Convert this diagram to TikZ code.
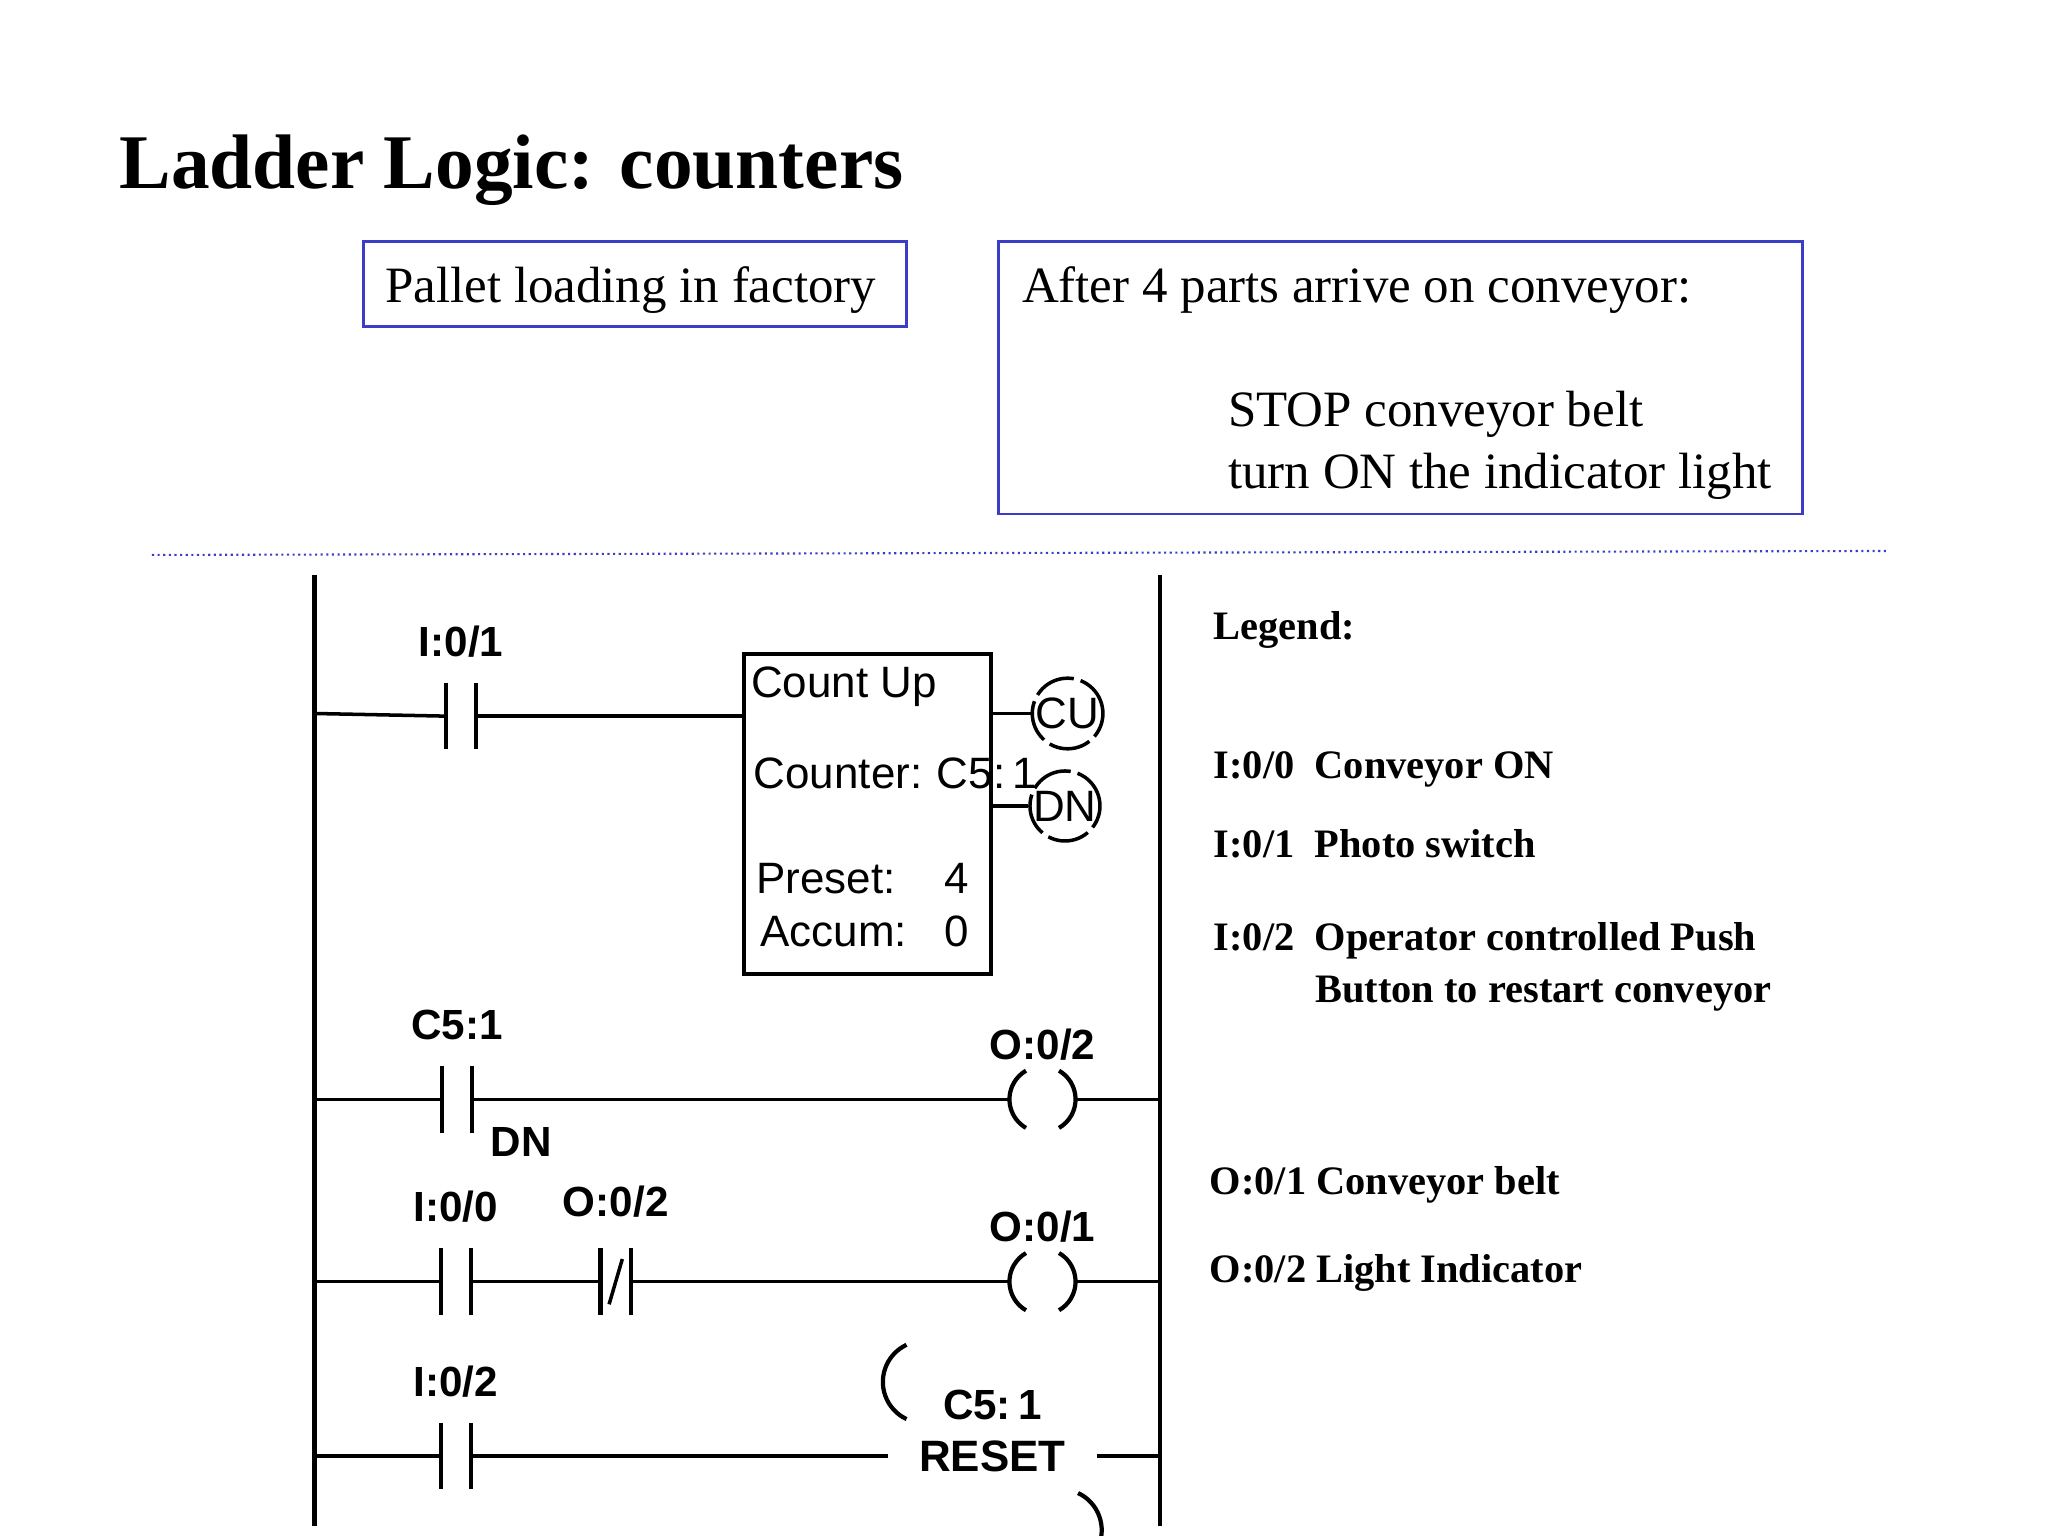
\documentclass[tikz,border=0pt]{standalone}
\usepackage{fontspec}
\setmainfont{Liberation Serif}
\newfontfamily\ladderfont{Liberation Sans}
\usetikzlibrary{positioning,calc,shapes.geometric}
\definecolor{frameblue}{RGB}{60,60,200}
\begin{document}
\begin{tikzpicture}[x=0.01321cm,y=-0.01321cm,
    txt/.style={inner sep=0pt,anchor=base west},
    lbl/.style={inner sep=0pt,font=\ladderfont\bfseries\fontsize{12}{12}\selectfont},
    box/.style={draw=frameblue,line width=0.8pt},
    rail/.style={line width=1.2pt},
    wire/.style={line width=1pt},
    contact/.style={inner sep=0pt,minimum height=0.65cm,minimum width=0.29cm},
    coil/.style={circle,minimum size=0.66cm,inner sep=0pt},
    legend/.style={txt,font=\bfseries\fontsize{11.5}{12}\selectfont}]
    \useasboundingbox (0,0) rectangle (1550,1162);
    % header
    \node[txt,font=\bfseries\fontsize{22}{24}\selectfont] (title) at (90,143) {Ladder Logic: counters};
    \draw[box] (275,183) rectangle (686,247);
    \node[txt,font=\fontsize{14.5}{16}\selectfont] (pallet) at (291,229) {Pallet loading in factory};
    \draw[box] (756,183) rectangle (1364,389);
    \node[txt,font=\fontsize{14.5}{16}\selectfont] (after) at (773,229) {After 4 parts arrive on conveyor:};
    \node[txt,font=\fontsize{14.5}{16}\selectfont] (stop) at (929,323) {STOP conveyor belt};
    \node[txt,font=\fontsize{14.5}{16}\selectfont] (turn) at (929,370) {turn ON the indicator light};
    \draw[frameblue,densely dotted,line width=0.6pt] (115,420) -- (1428,417);
    % rails
    \draw[rail] (238,435) -- (238,1155);
    \draw[rail] (878,435) -- (878,1155);
    % rung 1: counter
    \node[contact] (c1) at (349,542) {};
    \node[lbl,above=0.25cm of c1] {I:0/1};
    \node[draw,line width=1pt,minimum width=2.47cm,minimum height=3.2cm,inner sep=0pt] (ctu) at (656.5,616) {};
    \node[txt,font=\ladderfont\fontsize{12.5}{13}\selectfont] at (568,528) {Count Up};
    \node[txt,font=\ladderfont\fontsize{12.5}{13}\selectfont] at (570,597) {Counter:\,\,C5:\,1};
    \node[txt,font=\ladderfont\fontsize{12.5}{13}\selectfont] at (572,676) {Preset:};
    \node[txt,font=\ladderfont\fontsize{12.5}{13}\selectfont] at (714,676) {4};
    \node[txt,font=\ladderfont\fontsize{12.5}{13}\selectfont] at (575,716) {Accum:};
    \node[txt,font=\ladderfont\fontsize{12.5}{13}\selectfont] at (714,716) {0};
    \node[coil,draw,dash pattern=on 12pt off 2pt,line width=1pt,font=\ladderfont\fontsize{12.5}{13}\selectfont] (cu) at (808,540) {CU};
    \node[coil,draw,dash pattern=on 12pt off 2pt,line width=1pt,font=\ladderfont\fontsize{12.5}{13}\selectfont] (dn) at (806,610) {DN};
    \coordinate (r1) at (238,540);
    \draw[wire] (r1) -- (c1.west);
    \draw[wire] (c1.east) -- (ctu.west |- c1.east);
    \draw[wire] (ctu.east |- cu.west) -- (cu.west);
    \draw[wire] (ctu.east |- dn.west) -- (dn.west);
    % rung 2: done bit
    \node[contact] (c2) at (346,832) {};
    \node[lbl,above=0.25cm of c2] {C5:1};
    \node[lbl,anchor=north west] at (371,853) {DN};
    \node[coil] (o2) at (789,832) {};
    \node[lbl,above=0.05cm of o2] {O:0/2};
    \draw[wire] (238,832) -- (c2.west);
    \draw[wire] (c2.east) -- (o2.west);
    \draw[wire] (o2.east) -- (878,832);
    % rung 3: conveyor
    \node[contact] (c3) at (345,970) {};
    \node[lbl,above=0.25cm of c3] {I:0/0};
    \node[contact] (c4) at (466,970) {};
    \node[lbl,above=0.3cm of c4] {O:0/2};
    \draw[line width=1pt] ($(c4.south)+(-5,-8)$) -- ($(c4.north)+(5,8)$);
    \node[coil] (o1) at (789,970) {};
    \node[lbl,above=0.05cm of o1] {O:0/1};
    \draw[wire] (238,970) -- (c3.west);
    \draw[wire] (c3.east) -- (c4.west);
    \draw[wire] (c4.east) -- (o1.west);
    \draw[wire] (o1.east) -- (878,970);
    % rung 4: reset
    \node[contact] (c5) at (345,1102) {};
    \node[lbl,above=0.25cm of c5] {I:0/2};
    \node[ellipse,minimum width=1.6cm,minimum height=0.66cm,inner sep=0pt,font=\ladderfont\bfseries\fontsize{12.5}{13}\selectfont] (res) at (751,1102) {RESET};
    \node[lbl,above=0.02cm of res] {C5:\,1};
    \draw[wire] (238,1102) -- (c5.west);
    \draw[wire] (c5.east) -- (res.west);
    \draw[wire] (res.east) -- (878,1102);
    % contact bars and coil arcs
    \foreach \c in {c1,c2,c3,c4,c5}
        \draw[line width=1.2pt] (\c.north west) -- (\c.south west) (\c.north east) -- (\c.south east);
    \foreach \o in {o1,o2}
        \draw[line width=1.2pt] ($(\o.center)+(120:25)$) arc[start angle=120,end angle=240,radius=25]
            ($(\o.center)+(-60:25)$) arc[start angle=-60,end angle=60,radius=25];
    \draw[line width=1.2pt] ($(res.west)+(14,-28)$) arc[start angle=115,end angle=245,radius=31]
        ($(res.east)+(-14,28)$) arc[start angle=-65,end angle=65,radius=31];
    % legend
    \node[legend] at (918,484) {Legend:};
    \node[legend] at (918,589) {I:0/0\ \ Conveyor ON};
    \node[legend] at (918,649) {I:0/1\ \ Photo switch};
    \node[legend] at (918,719) {I:0/2\ \ Operator controlled Push};
    \node[legend] at (995,759) {Button to restart conveyor};
    \node[legend] at (915,904) {O:0/1 Conveyor belt};
    \node[legend] at (915,971) {O:0/2 Light Indicator};
\end{tikzpicture}
\end{document}
